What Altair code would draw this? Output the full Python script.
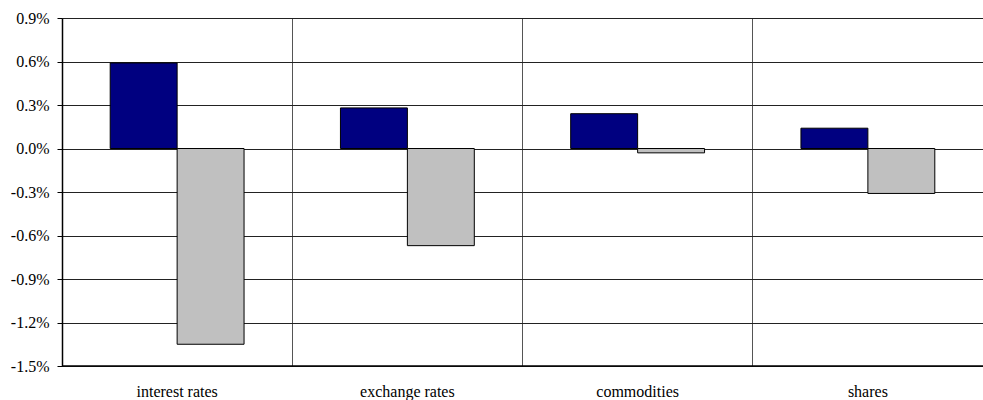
import altair as alt
import pandas as pd

categories = ["interest rates", "exchange rates", "commodities", "shares"]
series_names = ["series 1", "series 2"]
series_1 = [0.0059, 0.0028, 0.0024, 0.0014]
series_2 = [-0.0135, -0.0067, -0.0003, -0.0031]
y_ticks = [0.009, 0.006, 0.003, 0.0, -0.003, -0.006, -0.009, -0.012, -0.015]

rows = []
for cat, a, b in zip(categories, series_1, series_2):
    rows.append({"category": cat, "series": series_names[0], "value": a})
    rows.append({"category": cat, "series": series_names[1], "value": b})
df = pd.DataFrame(rows)

FONT = "'Liberation Serif', 'DejaVu Serif', serif"
PLOT_W = 921
PLOT_H = 348

bars = alt.Chart(df).mark_bar(stroke="black", strokeWidth=1).encode(
    x=alt.X(
        "category:N",
        sort=categories,
        title=None,
        scale=alt.Scale(paddingInner=0, paddingOuter=0),
        axis=alt.Axis(
            labelAngle=0,
            ticks=False,
            domain=False,
            grid=True,
            bandPosition=0,
            gridColor="#555555",
            gridWidth=1,
            labelFont=FONT,
            labelFontSize=16,
            labelColor="black",
            labelPadding=17,
        ),
    ),
    xOffset=alt.XOffset(
        "series:N",
        sort=series_names,
        scale=alt.Scale(paddingInner=0, paddingOuter=0.72),
    ),
    y=alt.Y(
        "value:Q",
        title=None,
        scale=alt.Scale(domain=[-0.015, 0.009], nice=False, zero=False),
        axis=alt.Axis(
            values=y_ticks,
            labelExpr="replace(format(datum.value, '.1%'), '\u2212', '-')",
            grid=True,
            gridColor="#222222",
            gridWidth=1,
            domainColor="black",
            domainWidth=1.5,
            tickColor="black",
            tickSize=5,
            labelFont=FONT,
            labelFontSize=16,
            labelColor="black",
            labelPadding=8,
        ),
    ),
    color=alt.Color(
        "series:N",
        scale=alt.Scale(domain=series_names, range=["#000080", "#C0C0C0"]),
        legend=None,
    ),
)

# bottom frame line of the plot area
bottom = alt.Chart(pd.DataFrame({"v": [-0.015]})).mark_rule(
    color="black", strokeWidth=1.5
).encode(y="v:Q", x=alt.value(0), x2=alt.value(PLOT_W))

chart = (
    alt.layer(bars, bottom)
    .properties(
        width=PLOT_W,
        height=PLOT_H,
        padding={"left": 62, "top": 18, "right": 0, "bottom": 34},
        autosize=alt.AutoSizeParams(type="none"),
    )
    .configure_view(stroke=None)
    .configure(background="white")
)

chart.save("out.html", embed_options={"renderer": "svg", "actions": False})
